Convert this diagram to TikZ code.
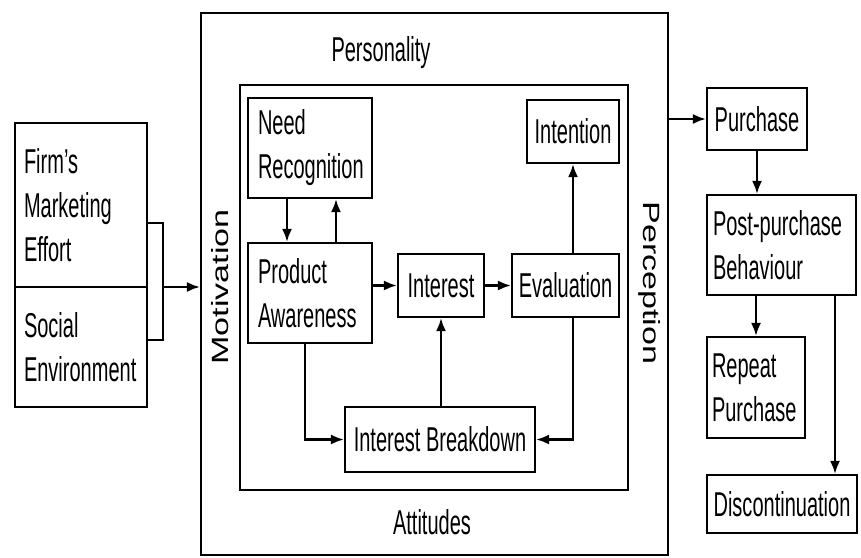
\documentclass[tikz,border=0pt]{standalone}
\usepackage{fontspec}
\setmainfont[FakeStretch=0.58]{Liberation Sans}
\newfontfamily\widefont[FakeStretch=1.45]{Liberation Sans}
\usetikzlibrary{arrows.meta}
\begin{document}
\begin{tikzpicture}[x=1pt,y=-1pt,
  font=\fontsize{34.5}{44}\selectfont,
  box/.style={draw, line width=2.2pt, inner sep=0pt, align=center},
  lft/.style={align=left, text width=#1},
  arr/.style={-{Latex[length=13pt,width=10pt]}, line width=2.1pt},
  plain/.style={line width=2.1pt},
  lbl/.style={inner sep=0pt}]
\useasboundingbox (0,0) rectangle (861,557);

% outer and inner frames
\node[box, minimum width=467pt, minimum height=542pt] (outer) at (434.5,284) {};
\node[box, line width=2.4pt, minimum width=388pt, minimum height=405pt] (inner) at (434,287.5) {};

% frame labels
\node[lbl, anchor=base] (pers) at (381,61) {Personality};
\node[lbl, anchor=base] (att) at (432,534) {Attitudes};
\node[lbl, rotate=90, font=\widefont\fontsize{23.5}{28}\selectfont] (mot) at (220,287) {Motivation};
\node[lbl, rotate=-90, font=\widefont\fontsize{23.5}{28}\selectfont] (perc) at (650,283) {Perception};

% left inputs
\node[box, minimum width=132pt, minimum height=164pt, lft=114pt] (firm) at (81,205) {Firm's\\Marketing\\Effort};
\node[box, minimum width=132pt, minimum height=120pt, lft=114pt] (social) at (81,347) {Social\\Environment};
\coordinate (b1) at (163,223);
\coordinate (b2) at (163,340);
\coordinate (bm) at (163,287);
\draw[plain] (firm.east |- b1) -- (b1) -- (b2) -- (social.east |- b2);
\draw[arr] (bm) -- (outer.west |- bm);

% inner process
\node[box, minimum width=124pt, minimum height=100pt, lft=104pt] (need) at (310,148) {Need\\Recognition};
\node[box, minimum width=124pt, minimum height=100pt, lft=104pt] (aware) at (310,293) {Product\\Awareness};
\node[box, minimum width=86pt, minimum height=63pt] (interest) at (441,285.5) {Interest};
\node[box, minimum width=107pt, minimum height=63pt] (eval) at (565.5,285.5) {Evaluation};
\node[box, minimum width=92pt, minimum height=63pt] (intent) at (573,131.5) {Intention};
\node[box, minimum width=190pt, minimum height=65pt] (ib) at (440,439.5) {Interest Breakdown};

\draw[arr] ([xshift=-23pt]need.south) -- ([xshift=-23pt]aware.north);
\draw[arr] ([xshift=26pt]aware.north) -- ([xshift=26pt]need.south);
\draw[arr] (aware.east |- interest.west) -- (interest.west);
\draw[arr] (interest.east) -- (eval.west);
\draw[arr] (intent.south |- eval.north) -- (intent.south);
\draw[arr] (ib.north -| interest.south) -- (interest.south);
\draw[arr] ([xshift=-5pt]aware.south) |- (ib.west);
\draw[arr] (eval.south -| intent.south) |- (ib.east);

% right outcomes
\node[box, minimum width=100pt, minimum height=62pt] (purchase) at (757,119) {Purchase};
\node[box, minimum width=149pt, minimum height=100pt, lft=137pt] (ppb) at (781.5,245) {Post-purchase\\Behaviour};
\node[box, minimum width=98pt, minimum height=101pt, lft=88pt] (repeat) at (756,387.5) {Repeat\\Purchase};
\node[box, minimum width=150pt, minimum height=58pt] (disc) at (782,504) {Discontinuation};

\coordinate (dtop) at (835,295);
\draw[arr] (outer.east |- purchase.west) -- (purchase.west);
\draw[arr] (purchase.south) -- (purchase.south |- ppb.north);
\draw[arr] (repeat.north |- ppb.south) -- (repeat.north);
\draw[arr] (dtop) -- (dtop |- disc.north);
\end{tikzpicture}
\end{document}
